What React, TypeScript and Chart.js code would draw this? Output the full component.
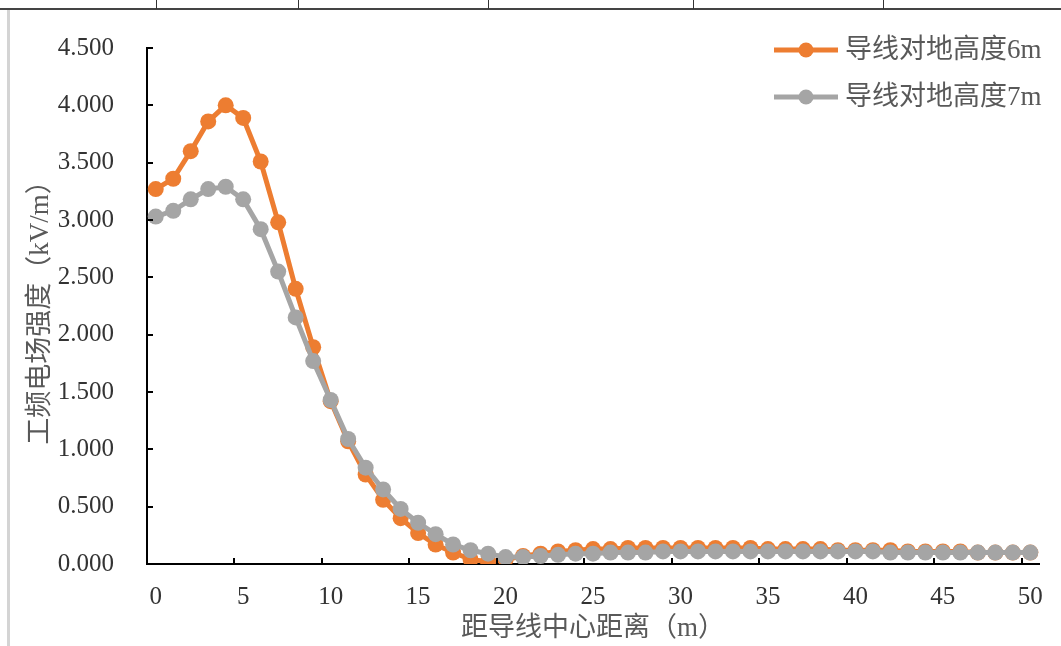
import React, { useEffect, useRef } from "react";
import { Chart, registerables } from "chart.js";

Chart.register(...registerables);

// ---- data ----
const distances = [
  0, 1, 2, 3, 4, 5, 6, 7, 8, 9, 10, 11, 12, 13, 14, 15, 16, 17, 18, 19, 20,
  21, 22, 23, 24, 25, 26, 27, 28, 29, 30, 31, 32, 33, 34, 35, 36, 37, 38, 39,
  40, 41, 42, 43, 44, 45, 46, 47, 48, 49, 50,
];
const field6m = [
  3.27, 3.36, 3.6, 3.86, 4.0, 3.89, 3.51, 2.98, 2.4, 1.89, 1.42, 1.07, 0.78,
  0.56, 0.4, 0.27, 0.17, 0.1, 0.04, 0.02, 0.04, 0.07, 0.09, 0.11, 0.12, 0.13,
  0.13, 0.14, 0.14, 0.14, 0.14, 0.14, 0.14, 0.14, 0.14, 0.13, 0.13, 0.13, 0.13,
  0.12, 0.12, 0.12, 0.12, 0.11, 0.11, 0.11, 0.11, 0.1, 0.1, 0.1, 0.1,
];
const field7m = [
  3.03, 3.08, 3.18, 3.27, 3.29, 3.18, 2.92, 2.55, 2.15, 1.77, 1.43, 1.09, 0.84,
  0.65, 0.48, 0.36, 0.26, 0.17, 0.12, 0.09, 0.06, 0.06, 0.07, 0.08, 0.09, 0.09,
  0.1, 0.1, 0.1, 0.11, 0.11, 0.11, 0.11, 0.11, 0.11, 0.11, 0.11, 0.11, 0.11,
  0.11, 0.11, 0.11, 0.1, 0.1, 0.1, 0.1, 0.1, 0.1, 0.1, 0.1, 0.1,
];
const xTickValues = [0, 5, 10, 15, 20, 25, 30, 35, 40, 45, 50];
const xTickMarkValues = [4.5, 9.5, 14.5, 19.5, 24.5, 29.5, 34.5, 39.5, 44.5, 49.5];
const yTickValues = [0, 0.5, 1, 1.5, 2, 2.5, 3, 3.5, 4, 4.5];
const seriesLabels = ["导线对地高度6m", "导线对地高度7m"];
const xTitle = "距导线中心距离（m）";
const yTitle = "工频电场强度（kV/m）";

const ORANGE = "#ED7D31";
const GRAY = "#A5A5A5";
const FONT = "'Liberation Serif', 'Noto Sans CJK SC', serif";

const insideTicks = {
  id: "insideTicks",
  afterDatasetsDraw(chart: any) {
    const { ctx, chartArea, scales } = chart;
    ctx.save();
    ctx.strokeStyle = "#000";
    ctx.lineWidth = 2;
    ctx.beginPath();
    yTickValues.forEach((v) => {
      if (v === 0) return;
      const y = Math.round(scales.y.getPixelForValue(v));
      ctx.moveTo(chartArea.left, y);
      ctx.lineTo(chartArea.left + 6, y);
    });
    xTickMarkValues.forEach((v) => {
      const x = Math.round(scales.x.getPixelForValue(v));
      ctx.moveTo(x, chartArea.bottom);
      ctx.lineTo(x, chartArea.bottom - 6);
    });
    ctx.stroke();
    ctx.restore();
  },
};

const customLegend = {
  id: "customLegend",
  afterDraw(chart: any) {
    const { ctx } = chart;
    const colors = [ORANGE, GRAY];
    const rows = [50, 97];
    ctx.save();
    seriesLabels.forEach((label, i) => {
      const y = rows[i];
      ctx.strokeStyle = colors[i];
      ctx.fillStyle = colors[i];
      ctx.lineWidth = 5;
      ctx.beginPath();
      ctx.moveTo(774, y);
      ctx.lineTo(838, y);
      ctx.stroke();
      ctx.beginPath();
      ctx.arc(806, y, 7.5, 0, Math.PI * 2);
      ctx.fill();
      ctx.fillStyle = "#595959";
      ctx.font = `27px ${FONT}`;
      ctx.textAlign = "left";
      ctx.textBaseline = "middle";
      ctx.fillText(label, 845, y + 1);
    });
    ctx.restore();
  },
};

export default function App() {
  const ref = useRef<HTMLCanvasElement>(null);

  useEffect(() => {
    if (!ref.current) return;
    const chart = new Chart(ref.current, {
      type: "line",
      data: {
        datasets: [
          {
            label: seriesLabels[0],
            data: distances.map((d, i) => ({ x: d, y: field6m[i] })),
            borderColor: ORANGE,
            backgroundColor: ORANGE,
            borderWidth: 5,
            pointRadius: 8,
            pointBorderWidth: 0,
            pointBackgroundColor: ORANGE,
            tension: 0,
            order: 1,
          },
          {
            label: seriesLabels[1],
            data: distances.map((d, i) => ({ x: d, y: field7m[i] })),
            borderColor: GRAY,
            backgroundColor: GRAY,
            borderWidth: 5,
            pointRadius: 8,
            pointBorderWidth: 0,
            pointBackgroundColor: GRAY,
            tension: 0,
            order: 0,
          },
        ],
      },
      options: {
        responsive: false,
        animation: false,
        devicePixelRatio: 1,
        layout: { padding: { left: 0, right: 19, top: 42, bottom: 0 } },
        plugins: {
          legend: { display: false },
          tooltip: { enabled: false },
        },
        scales: {
          x: {
            type: "linear",
            min: -0.5,
            max: 50.5,
            afterBuildTicks: (s: any) => {
              s.ticks = xTickValues.map((v) => ({ value: v }));
            },
            afterFit: (s: any) => {
              s.height = 82;
            },
            grid: { display: false, drawTicks: false },
            border: { display: true, color: "#000", width: 2 },
            ticks: {
              autoSkip: false,
              maxRotation: 0,
              padding: 18,
              color: "#333333",
              font: { family: FONT, size: 25 },
              callback: (v: any) => String(v),
            },
            title: {
              display: true,
              text: xTitle,
              color: "#595959",
              font: { family: FONT, size: 27 },
              padding: { top: 0, bottom: 1 },
            },
          },
          y: {
            min: 0,
            max: 4.5,
            afterBuildTicks: (s: any) => {
              s.ticks = yTickValues.map((v) => ({ value: v }));
            },
            afterFit: (s: any) => {
              s.width = 147;
            },
            grid: { display: false, drawTicks: false },
            border: { display: true, color: "#000", width: 2 },
            ticks: {
              autoSkip: false,
              padding: 33,
              color: "#333333",
              font: { family: FONT, size: 25 },
              callback: (v: any) => Number(v).toFixed(3),
            },
            title: {
              display: true,
              text: yTitle,
              color: "#595959",
              font: { family: FONT, size: 27 },
              padding: { top: 25, bottom: 0 },
            },
          },
        },
      } as any,
      plugins: [insideTicks, customLegend],
    });
    return () => chart.destroy();
  }, []);

  const dividers = [156, 298, 488, 693, 883];

  return (
    <div
      style={{
        position: "absolute",
        left: 0,
        top: 0,
        width: 1061,
        height: 646,
        background: "#fff",
        overflow: "hidden",
      }}
    >
      <div
        style={{
          position: "absolute",
          left: 0,
          top: 8,
          width: 1061,
          height: 2,
          background: "#444",
        }}
      />
      {dividers.map((x) => (
        <div
          key={x}
          style={{
            position: "absolute",
            left: x,
            top: 0,
            width: 1,
            height: 9,
            background: "#333",
          }}
        />
      ))}
      <div
        style={{
          position: "absolute",
          left: 7,
          top: 10,
          width: 3,
          height: 636,
          background: "#d4d4d4",
        }}
      />
      <canvas
        ref={ref}
        width={1061}
        height={646}
        style={{ position: "absolute", left: 0, top: 0, width: 1061, height: 646 }}
      />
    </div>
  );
}
